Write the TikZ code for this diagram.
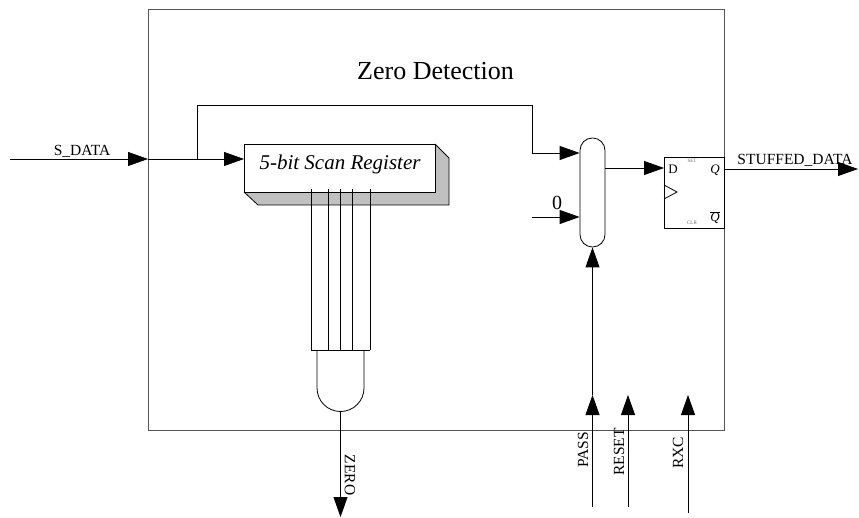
\documentclass[tikz,border=0pt]{standalone}
\usepackage{fontspec}
\setmainfont{Liberation Serif}
\usetikzlibrary{arrows.meta}
\definecolor{zdgray}{RGB}{85,85,85}
\definecolor{regshade}{RGB}{192,192,192}
\begin{document}
\begin{tikzpicture}[x=1pt,y=-1pt, line width=0.8pt,
  arr/.style={-{Triangle[length=20pt,width=14pt]}},
  lbl/.style={inner sep=0pt, font=\fontsize{15.5}{18}\selectfont},
  box/.style={draw, inner sep=0pt, line width=0.8pt},
  tiny/.style={inner sep=0pt, anchor=base, font=\fontsize{5}{6}\selectfont, text=black!60}
]
\useasboundingbox (0,0) rectangle (859,518);

% outer block
\node[draw=zdgray, line width=1.2pt, minimum width=576pt, minimum height=421pt,
      anchor=north west, inner sep=0pt] (zd) at (148,9) {};
\node[anchor=base, inner sep=0pt, font=\fontsize{26}{30}\selectfont] (title) at (435.5,80) {Zero Detection};

% scan register with 3D shade
\fill[regshade] (435,144) -- (449,158) -- (449,205) -- (258,205) -- (244,192) -- (435,192) -- cycle;
\draw (435,144) -- (449,158) -- (449,205) -- (258,205) -- (244,192);
\node[box, fill=white, minimum width=191pt, minimum height=48pt, anchor=north west] (reg) at (244,144) {};
\node[anchor=base, inner sep=0pt, font=\itshape\fontsize{21}{24}\selectfont] (regtxt) at (340,170) {5-bit Scan Register};

% bit wires
\foreach \x in {311,328,340,352,370} { \draw (\x,189) -- (\x,350); }
\draw (311,350) -- (370,350);

% AND gate
\draw (317,350) -- (317,388) .. controls (317,401) and (327.5,411.5) .. (340.5,411.5)
      .. controls (353.5,411.5) and (364,401) .. (364,388) -- (364,350);
\coordinate (gout) at (340.5,411.5);
\coordinate (zeroend) at (340.5,517);
\draw[arr] (gout) -- (zeroend);
\node[lbl, rotate=-90] (zerolbl) at (350,475) {ZERO};

% S_DATA input
\coordinate (sin) at (10,159);
\coordinate (sedge) at (148,159);
\draw[arr] (sin) -- (sedge);
\draw[arr] (sedge) -- (reg.west |- sedge);
\node[lbl, anchor=base] (sdlbl) at (82,156) {S\_DATA};

% mux
\node[box, fill=white, minimum width=25pt, minimum height=109pt, rounded corners=12.4pt] (mux) at (592.5,192.5) {};
\coordinate (tap) at (197,159);
\coordinate (m1) at (0,153);
\draw[arr] (tap) -- (197,105) -- (532,105) -- (532,153) -- (mux.west |- m1);
\coordinate (zin) at (532,217);
\draw[arr] (zin) -- (mux.west |- zin);
\node[anchor=base, inner sep=0pt, font=\fontsize{20}{22}\selectfont] (zerotxt) at (557,210) {0};

% flip-flop
\node[box, fill=white, minimum width=60pt, minimum height=71pt, anchor=north west] (ff) at (664,157) {};
\draw (664,185) -- (677,192) -- (664,199);
\node[anchor=base, inner sep=0pt, font=\fontsize{13}{15}\selectfont] (dlbl) at (673,174) {D};
\node[anchor=base, inner sep=0pt, font=\itshape\fontsize{13}{15}\selectfont] (qlbl) at (715,174) {Q};
\node[anchor=base, inner sep=0pt, font=\fontsize{13}{15}\selectfont] (qblbl) at (715,222) {$\overline{\mbox{\itshape Q}}$};
\node[tiny] (setlbl) at (692,163) {SET};
\node[tiny] (clrlbl) at (692,225) {CLR};
\coordinate (ffd) at (0,168);
\draw[arr] (mux.east |- ffd) -- (ff.west |- ffd);

% STUFFED_DATA output
\coordinate (sout) at (858,169);
\draw[arr] (ff.east |- sout) -- (sout);
\node[lbl, anchor=base] (stlbl) at (795,165) {STUFFED\_DATA};

% control inputs
\coordinate (passin) at (592.5,507);
\coordinate (passb) at (592.5,395);
\draw[arr] (passin) -- (passb);
\draw[arr] (passb) -- (mux.south);
\coordinate (rstin) at (628,507);
\coordinate (rstb) at (628,395);
\draw[arr] (rstin) -- (rstb);
\coordinate (rxcin) at (688,513);
\coordinate (rxcb) at (688,395);
\draw[arr] (rxcin) -- (rxcb);
\node[lbl, rotate=90] (passlbl) at (583,450) {PASS};
\node[lbl, rotate=90] (rstlbl) at (619,452) {RESET};
\node[lbl, rotate=90] (rxclbl) at (678,453) {RXC};
\end{tikzpicture}
\end{document}
